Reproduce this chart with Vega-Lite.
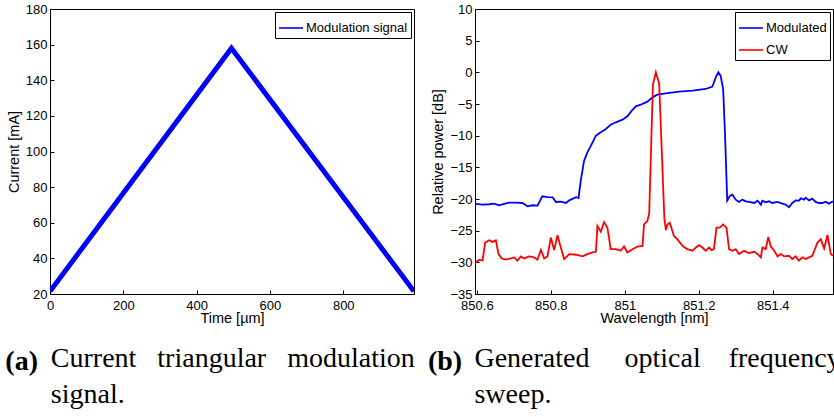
{
  "$schema": "https://vega.github.io/schema/vega-lite/v6.json",
  "padding": {"left": 4, "top": 2, "right": 0, "bottom": 0},
  "background": "white",
  "spacing": 12,
  "resolve": {"scale": {"color": "independent"}, "legend": {"color": "independent"}},
  "hconcat": [
    {
      "resolve": {"scale": {"color": "independent"}, "legend": {"color": "independent"}},
      "title": {"text": "Current\u00a0\u00a0\u00a0triangular\u00a0\u00a0\u00a0modulation", "subtitle": "signal.", "orient": "bottom", "anchor": "start", "font": "Liberation Serif", "fontSize": 28, "fontWeight": "normal", "color": "black", "subtitleFont": "Liberation Serif", "subtitleFontSize": 28, "subtitleColor": "black", "subtitlePadding": 8, "dx": 46, "dy": -35},
      "vconcat": [
        {
          "width": 364,
          "height": 285,
          "title": {"text": "(a)", "orient": "bottom", "anchor": "start", "font": "Liberation Serif", "fontSize": 28, "fontWeight": "bold", "color": "black", "dx": -1, "offset": 23},
          "data": {"values": [
            {"t": 0, "i": 21.5, "s": "Modulation signal"},
            {"t": 495, "i": 158, "s": "Modulation signal"},
            {"t": 993, "i": 21.5, "s": "Modulation signal"}
          ]},
          "mark": {"type": "line", "strokeWidth": 5, "clip": true},
          "encoding": {
            "x": {"field": "t", "type": "quantitative", "scale": {"domain": [0, 993], "nice": false, "zero": false}, "axis": {"title": "Time [µm]", "values": [0, 200, 400, 600, 800]}},
            "y": {"field": "i", "type": "quantitative", "scale": {"domain": [20, 180], "nice": false, "zero": false}, "axis": {"title": "Current [mA]", "values": [20, 40, 60, 80, 100, 120, 140, 160, 180]}},
            "color": {"field": "s", "type": "nominal", "scale": {"domain": ["Modulation signal"], "range": ["#0000ff"]}, "legend": {"title": null, "orient": "top-right"}}
          }
        }
      ]
    },
    {
      "resolve": {"scale": {"color": "independent"}, "legend": {"color": "independent"}},
      "title": {"text": "Generated\u00a0\u00a0\u00a0\u00a0\u00a0optical\u00a0\u00a0\u00a0\u00a0frequency", "subtitle": "sweep.", "orient": "bottom", "anchor": "start", "font": "Liberation Serif", "fontSize": 28, "fontWeight": "normal", "color": "black", "subtitleFont": "Liberation Serif", "subtitleFontSize": 28, "subtitleColor": "black", "subtitlePadding": 8, "dx": 47, "dy": -35},
      "vconcat": [
        {
          "width": 358,
          "height": 285,
          "title": {"text": "(b)", "orient": "bottom", "anchor": "start", "font": "Liberation Serif", "fontSize": 28, "fontWeight": "bold", "color": "black", "dx": -3, "offset": 23},
          "data": {"values": [
            {"wl": 850.597, "p": -20.78, "s": "Modulated"},
            {"wl": 850.615, "p": -20.89, "s": "Modulated"},
            {"wl": 850.633, "p": -20.83, "s": "Modulated"},
            {"wl": 850.647, "p": -20.73, "s": "Modulated"},
            {"wl": 850.660, "p": -20.99, "s": "Modulated"},
            {"wl": 850.674, "p": -20.78, "s": "Modulated"},
            {"wl": 850.687, "p": -20.57, "s": "Modulated"},
            {"wl": 850.705, "p": -20.57, "s": "Modulated"},
            {"wl": 850.723, "p": -20.63, "s": "Modulated"},
            {"wl": 850.737, "p": -21.15, "s": "Modulated"},
            {"wl": 850.750, "p": -20.99, "s": "Modulated"},
            {"wl": 850.764, "p": -21.04, "s": "Modulated"},
            {"wl": 850.777, "p": -19.58, "s": "Modulated"},
            {"wl": 850.791, "p": -19.69, "s": "Modulated"},
            {"wl": 850.805, "p": -19.74, "s": "Modulated"},
            {"wl": 850.814, "p": -20.47, "s": "Modulated"},
            {"wl": 850.827, "p": -20.42, "s": "Modulated"},
            {"wl": 850.841, "p": -20.63, "s": "Modulated"},
            {"wl": 850.850, "p": -20.21, "s": "Modulated"},
            {"wl": 850.868, "p": -19.70, "s": "Modulated"},
            {"wl": 850.875, "p": -19.84, "s": "Modulated"},
            {"wl": 850.881, "p": -17.11, "s": "Modulated"},
            {"wl": 850.890, "p": -13.95, "s": "Modulated"},
            {"wl": 850.899, "p": -12.63, "s": "Modulated"},
            {"wl": 850.913, "p": -11.05, "s": "Modulated"},
            {"wl": 850.922, "p": -10.0, "s": "Modulated"},
            {"wl": 850.935, "p": -9.47, "s": "Modulated"},
            {"wl": 850.949, "p": -8.95, "s": "Modulated"},
            {"wl": 850.962, "p": -8.26, "s": "Modulated"},
            {"wl": 850.976, "p": -7.89, "s": "Modulated"},
            {"wl": 850.994, "p": -7.47, "s": "Modulated"},
            {"wl": 851.007, "p": -6.95, "s": "Modulated"},
            {"wl": 851.019, "p": -6.05, "s": "Modulated"},
            {"wl": 851.030, "p": -5.37, "s": "Modulated"},
            {"wl": 851.043, "p": -5.11, "s": "Modulated"},
            {"wl": 851.061, "p": -4.63, "s": "Modulated"},
            {"wl": 851.075, "p": -3.95, "s": "Modulated"},
            {"wl": 851.088, "p": -3.53, "s": "Modulated"},
            {"wl": 851.111, "p": -3.32, "s": "Modulated"},
            {"wl": 851.147, "p": -3.05, "s": "Modulated"},
            {"wl": 851.183, "p": -2.89, "s": "Modulated"},
            {"wl": 851.219, "p": -2.63, "s": "Modulated"},
            {"wl": 851.237, "p": -2.26, "s": "Modulated"},
            {"wl": 851.246, "p": -0.79, "s": "Modulated"},
            {"wl": 851.253, "p": 0.0, "s": "Modulated"},
            {"wl": 851.259, "p": -0.53, "s": "Modulated"},
            {"wl": 851.266, "p": -2.63, "s": "Modulated"},
            {"wl": 851.271, "p": -9.74, "s": "Modulated"},
            {"wl": 851.277, "p": -20.26, "s": "Modulated"},
            {"wl": 851.284, "p": -19.50, "s": "Modulated"},
            {"wl": 851.291, "p": -19.32, "s": "Modulated"},
            {"wl": 851.300, "p": -20.10, "s": "Modulated"},
            {"wl": 851.309, "p": -20.47, "s": "Modulated"},
            {"wl": 851.318, "p": -20.10, "s": "Modulated"},
            {"wl": 851.327, "p": -20.36, "s": "Modulated"},
            {"wl": 851.336, "p": -20.47, "s": "Modulated"},
            {"wl": 851.350, "p": -20.63, "s": "Modulated"},
            {"wl": 851.359, "p": -20.26, "s": "Modulated"},
            {"wl": 851.368, "p": -20.89, "s": "Modulated"},
            {"wl": 851.372, "p": -20.26, "s": "Modulated"},
            {"wl": 851.381, "p": -20.52, "s": "Modulated"},
            {"wl": 851.390, "p": -20.36, "s": "Modulated"},
            {"wl": 851.399, "p": -20.63, "s": "Modulated"},
            {"wl": 851.413, "p": -20.47, "s": "Modulated"},
            {"wl": 851.426, "p": -20.73, "s": "Modulated"},
            {"wl": 851.435, "p": -20.89, "s": "Modulated"},
            {"wl": 851.444, "p": -21.30, "s": "Modulated"},
            {"wl": 851.453, "p": -20.63, "s": "Modulated"},
            {"wl": 851.462, "p": -20.21, "s": "Modulated"},
            {"wl": 851.471, "p": -20.26, "s": "Modulated"},
            {"wl": 851.476, "p": -19.90, "s": "Modulated"},
            {"wl": 851.485, "p": -20.10, "s": "Modulated"},
            {"wl": 851.489, "p": -19.79, "s": "Modulated"},
            {"wl": 851.498, "p": -20.21, "s": "Modulated"},
            {"wl": 851.507, "p": -19.95, "s": "Modulated"},
            {"wl": 851.516, "p": -20.47, "s": "Modulated"},
            {"wl": 851.525, "p": -20.63, "s": "Modulated"},
            {"wl": 851.534, "p": -20.63, "s": "Modulated"},
            {"wl": 851.543, "p": -20.42, "s": "Modulated"},
            {"wl": 851.552, "p": -20.73, "s": "Modulated"},
            {"wl": 851.563, "p": -20.36, "s": "Modulated"},
            {"wl": 850.5955, "p": -30.10, "s": "CW"},
            {"wl": 850.6063, "p": -29.58, "s": "CW"},
            {"wl": 850.6153, "p": -29.74, "s": "CW"},
            {"wl": 850.6225, "p": -26.88, "s": "CW"},
            {"wl": 850.6333, "p": -26.51, "s": "CW"},
            {"wl": 850.6423, "p": -26.77, "s": "CW"},
            {"wl": 850.6514, "p": -26.51, "s": "CW"},
            {"wl": 850.6586, "p": -28.70, "s": "CW"},
            {"wl": 850.6676, "p": -29.38, "s": "CW"},
            {"wl": 850.6784, "p": -29.58, "s": "CW"},
            {"wl": 850.6919, "p": -29.38, "s": "CW"},
            {"wl": 850.7009, "p": -29.22, "s": "CW"},
            {"wl": 850.7100, "p": -29.74, "s": "CW"},
            {"wl": 850.7189, "p": -29.06, "s": "CW"},
            {"wl": 850.7279, "p": -29.38, "s": "CW"},
            {"wl": 850.7414, "p": -29.06, "s": "CW"},
            {"wl": 850.7550, "p": -29.22, "s": "CW"},
            {"wl": 850.7640, "p": -29.58, "s": "CW"},
            {"wl": 850.7730, "p": -28.02, "s": "CW"},
            {"wl": 850.7820, "p": -29.38, "s": "CW"},
            {"wl": 850.7910, "p": -29.06, "s": "CW"},
            {"wl": 850.8000, "p": -26.09, "s": "CW"},
            {"wl": 850.8090, "p": -28.07, "s": "CW"},
            {"wl": 850.8180, "p": -25.73, "s": "CW"},
            {"wl": 850.8270, "p": -27.66, "s": "CW"},
            {"wl": 850.8360, "p": -29.48, "s": "CW"},
            {"wl": 850.8500, "p": -28.70, "s": "CW"},
            {"wl": 850.8680, "p": -28.80, "s": "CW"},
            {"wl": 850.8860, "p": -29.06, "s": "CW"},
            {"wl": 850.8990, "p": -28.70, "s": "CW"},
            {"wl": 850.9130, "p": -28.44, "s": "CW"},
            {"wl": 850.9220, "p": -28.33, "s": "CW"},
            {"wl": 850.9260, "p": -24.27, "s": "CW"},
            {"wl": 850.9350, "p": -25.16, "s": "CW"},
            {"wl": 850.9440, "p": -23.65, "s": "CW"},
            {"wl": 850.9530, "p": -24.53, "s": "CW"},
            {"wl": 850.9620, "p": -27.92, "s": "CW"},
            {"wl": 850.9760, "p": -27.92, "s": "CW"},
            {"wl": 850.9890, "p": -28.18, "s": "CW"},
            {"wl": 850.9980, "p": -27.50, "s": "CW"},
            {"wl": 851.0070, "p": -28.44, "s": "CW"},
            {"wl": 851.0210, "p": -27.92, "s": "CW"},
            {"wl": 851.0340, "p": -27.50, "s": "CW"},
            {"wl": 851.0480, "p": -27.40, "s": "CW"},
            {"wl": 851.0520, "p": -24.01, "s": "CW"},
            {"wl": 851.0610, "p": -23.49, "s": "CW"},
            {"wl": 851.0660, "p": -22.30, "s": "CW"},
            {"wl": 851.0760, "p": -2.00, "s": "CW"},
            {"wl": 851.0840, "p": 0.0, "s": "CW"},
            {"wl": 851.0930, "p": -1.80, "s": "CW"},
            {"wl": 851.1070, "p": -23.00, "s": "CW"},
            {"wl": 851.1110, "p": -24.90, "s": "CW"},
            {"wl": 851.1155, "p": -24.01, "s": "CW"},
            {"wl": 851.1216, "p": -23.75, "s": "CW"},
            {"wl": 851.1330, "p": -25.83, "s": "CW"},
            {"wl": 851.1420, "p": -26.35, "s": "CW"},
            {"wl": 851.1560, "p": -27.40, "s": "CW"},
            {"wl": 851.1690, "p": -27.92, "s": "CW"},
            {"wl": 851.1830, "p": -28.18, "s": "CW"},
            {"wl": 851.1920, "p": -27.66, "s": "CW"},
            {"wl": 851.2010, "p": -27.29, "s": "CW"},
            {"wl": 851.2100, "p": -27.66, "s": "CW"},
            {"wl": 851.2190, "p": -28.18, "s": "CW"},
            {"wl": 851.2280, "p": -27.66, "s": "CW"},
            {"wl": 851.2350, "p": -28.07, "s": "CW"},
            {"wl": 851.2410, "p": -27.92, "s": "CW"},
            {"wl": 851.2480, "p": -24.53, "s": "CW"},
            {"wl": 851.2570, "p": -24.53, "s": "CW"},
            {"wl": 851.2660, "p": -24.01, "s": "CW"},
            {"wl": 851.2750, "p": -24.53, "s": "CW"},
            {"wl": 851.2820, "p": -27.92, "s": "CW"},
            {"wl": 851.2910, "p": -28.18, "s": "CW"},
            {"wl": 851.3000, "p": -27.92, "s": "CW"},
            {"wl": 851.3090, "p": -28.70, "s": "CW"},
            {"wl": 851.3225, "p": -28.18, "s": "CW"},
            {"wl": 851.3360, "p": -28.54, "s": "CW"},
            {"wl": 851.3500, "p": -28.33, "s": "CW"},
            {"wl": 851.3590, "p": -28.70, "s": "CW"},
            {"wl": 851.3680, "p": -29.22, "s": "CW"},
            {"wl": 851.3720, "p": -27.66, "s": "CW"},
            {"wl": 851.3810, "p": -27.92, "s": "CW"},
            {"wl": 851.3880, "p": -25.99, "s": "CW"},
            {"wl": 851.3950, "p": -27.50, "s": "CW"},
            {"wl": 851.4040, "p": -28.18, "s": "CW"},
            {"wl": 851.4130, "p": -29.06, "s": "CW"},
            {"wl": 851.4220, "p": -28.70, "s": "CW"},
            {"wl": 851.4310, "p": -29.06, "s": "CW"},
            {"wl": 851.4440, "p": -28.96, "s": "CW"},
            {"wl": 851.4530, "p": -29.48, "s": "CW"},
            {"wl": 851.4620, "p": -29.06, "s": "CW"},
            {"wl": 851.4710, "p": -29.74, "s": "CW"},
            {"wl": 851.4800, "p": -29.22, "s": "CW"},
            {"wl": 851.4890, "p": -29.48, "s": "CW"},
            {"wl": 851.4980, "p": -29.22, "s": "CW"},
            {"wl": 851.5070, "p": -28.96, "s": "CW"},
            {"wl": 851.5210, "p": -26.88, "s": "CW"},
            {"wl": 851.5300, "p": -26.35, "s": "CW"},
            {"wl": 851.5390, "p": -27.81, "s": "CW"},
            {"wl": 851.5480, "p": -25.68, "s": "CW"},
            {"wl": 851.5570, "p": -28.70, "s": "CW"},
            {"wl": 851.5630, "p": -28.96, "s": "CW"}
          ]},
          "mark": {"type": "line", "strokeWidth": 1.8, "clip": true},
          "encoding": {
            "x": {"field": "wl", "type": "quantitative", "scale": {"domain": [850.595, 851.563], "nice": false, "zero": false}, "axis": {"title": "Wavelength [nm]", "values": [850.6, 850.8, 851, 851.2, 851.4], "format": "~g"}},
            "y": {"field": "p", "type": "quantitative", "scale": {"domain": [-35, 10], "nice": false, "zero": false}, "axis": {"title": "Relative power [dB]", "values": [-35, -30, -25, -20, -15, -10, -5, 0, 5, 10]}},
            "color": {"field": "s", "type": "nominal", "scale": {"domain": ["Modulated", "CW"], "range": ["#0000ff", "#ff0000"]}, "legend": {"title": null, "orient": "top-right"}}
          }
        }
      ]
    }
  ],
  "config": {
    "view": {"stroke": "black", "strokeWidth": 1},
    "axis": {"grid": false, "domainColor": "black", "tickColor": "black", "labelColor": "black", "titleColor": "black", "labelFont": "Liberation Sans", "titleFont": "Liberation Sans", "labelFontSize": 13, "titleFontSize": 14.5, "titleFontWeight": "normal", "tickSize": -4, "labelPadding": 7, "labelOverlap": false, "labelFlush": false},
    "axisX": {"titlePadding": -1, "labelPadding": 9},
    "axisY": {"titlePadding": 4},
    "legend": {"offset": 3, "strokeColor": "black", "fillColor": "white", "padding": 3, "cornerRadius": 0, "symbolType": "stroke", "symbolSize": 576, "symbolStrokeWidth": 1.6, "labelFont": "Liberation Sans", "labelFontSize": 13, "labelColor": "black", "labelOffset": 2, "rowPadding": 2}
  }
}
